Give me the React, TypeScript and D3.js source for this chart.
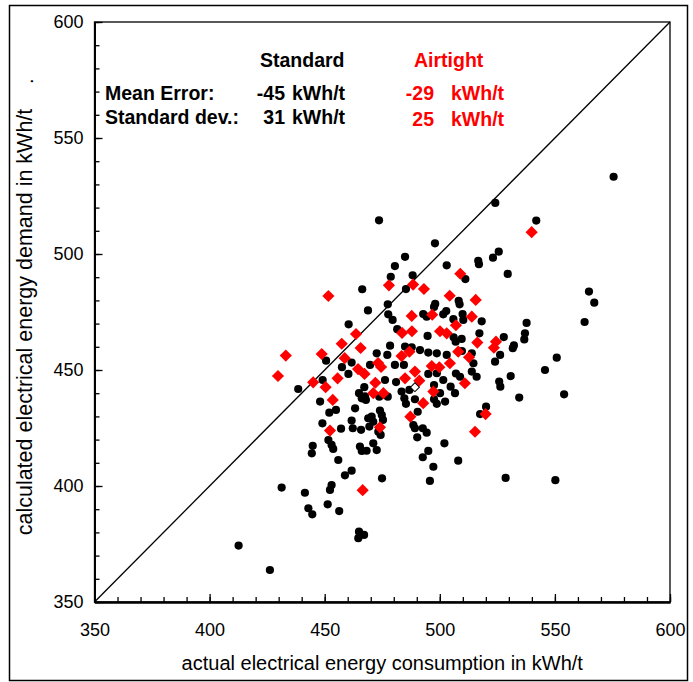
import { useRef, useEffect } from "react";
import * as d3 from "d3";

// [actual, calculated] in kWh/t
const standardPoints: [number, number][] = [
  [473.6, 514.5], [497.9, 504.6], [484.9, 498.8], [480.5, 494.8], [503.0, 495.1],
  [478.7, 490.2], [488.2, 490.8], [511.1, 489.2], [466.3, 484.8], [485.3, 484.9],
  [477.4, 478.3], [498.0, 478.5], [497.5, 477.2], [508.2, 479.8], [508.6, 478.3],
  [468.8, 475.7], [477.6, 474.0], [502.8, 475.4], [501.5, 474.0], [505.9, 471.9],
  [509.9, 474.1], [510.2, 471.6], [492.8, 474.1], [494.3, 473.0], [479.5, 471.6],
  [460.4, 469.7], [481.5, 467.6], [494.7, 464.7], [506.0, 464.1], [509.5, 463.4],
  [506.9, 462.2], [478.4, 460.5], [484.9, 460.1], [487.8, 459.8], [491.4, 458.6],
  [575.5, 533.3], [524.1, 522.0], [541.9, 514.4], [525.6, 501.0], [523.1, 498.4],
  [516.7, 497.1], [517.0, 495.6], [529.5, 491.4], [564.8, 483.8], [567.1, 479.0],
  [562.9, 470.7], [537.7, 470.3], [518.2, 471.0], [517.2, 465.8], [527.8, 464.2],
  [537.0, 465.8], [536.7, 463.2], [531.7, 459.4], [532.2, 460.6], [450.6, 454.0],
  [457.5, 451.2], [461.7, 453.2], [472.6, 457.2], [477.2, 456.5], [495.0, 457.5],
  [498.7, 457.2], [503.0, 456.5], [460.3, 448.3], [469.7, 452.2], [480.5, 452.2],
  [484.4, 452.2], [495.0, 448.3], [498.7, 448.6], [476.2, 445.7], [481.0, 444.8],
  [501.5, 445.7], [508.8, 447.1], [438.5, 441.8], [449.1, 445.7], [467.2, 442.6],
  [464.9, 440.0], [466.1, 437.8], [473.7, 438.5], [477.4, 438.5], [483.4, 440.7],
  [486.8, 441.4], [497.5, 443.5], [500.1, 440.0], [504.7, 442.8], [448.0, 436.4],
  [467.9, 437.1], [463.2, 433.5], [484.6, 437.8], [485.3, 435.4], [489.2, 437.4],
  [497.5, 437.4], [498.7, 435.4], [502.3, 436.4], [454.9, 432.8], [452.0, 431.6],
  [468.9, 429.2], [470.4, 429.9], [474.0, 432.5], [474.8, 430.6], [490.4, 432.0],
  [449.0, 427.0], [457.1, 424.7], [461.7, 428.2], [462.2, 424.9], [465.8, 424.2],
  [469.4, 425.6], [471.1, 427.7], [473.3, 423.4], [474.3, 422.0], [488.5, 426.3],
  [489.2, 424.9], [492.6, 424.9], [494.3, 423.0], [490.2, 421.0], [451.6, 419.8],
  [453.0, 417.7], [453.7, 416.0], [444.8, 417.3], [444.4, 414.1], [465.3, 417.0],
  [466.1, 415.1], [471.1, 418.4], [472.6, 415.5], [468.2, 415.2], [455.9, 411.2],
  [495.0, 415.1], [492.6, 412.4], [502.0, 418.4], [508.0, 410.9], [497.2, 408.3],
  [461.7, 406.6], [458.8, 404.6], [474.9, 403.3], [495.7, 402.2], [431.3, 399.3],
  [441.4, 397.1], [453.0, 400.4], [452.3, 398.3], [451.3, 392.1], [442.9, 390.4],
  [444.6, 387.8], [456.3, 389.2], [464.9, 380.3], [467.1, 378.9], [464.6, 377.5],
  [513.9, 457.2], [514.6, 452.9], [513.9, 449.3], [516.0, 447.1], [526.2, 456.5],
  [524.0, 453.6], [550.8, 455.3], [545.7, 450.0], [530.8, 447.4], [525.8, 445.0],
  [526.3, 442.8], [534.5, 438.1], [554.0, 439.5], [520.1, 434.2], [517.5, 431.0],
  [528.6, 403.5], [550.2, 402.5], [506.6, 440.0], [507.0, 448.5], [467.5, 438.6],
  [475.3, 428.5], [412.6, 374.3], [426.2, 363.8], [509.6, 458.2],
];

const airtightPoints: [number, number][] = [
  [508.9, 491.5], [477.9, 486.5], [488.4, 486.8], [493.1, 484.9], [451.6, 481.9],
  [504.3, 482.0], [515.6, 480.2], [487.8, 473.3], [496.7, 473.8], [513.9, 473.0],
  [507.0, 469.3], [483.6, 466.0], [487.9, 466.7], [500.1, 466.7], [503.0, 465.8],
  [463.6, 465.5], [457.4, 461.3], [465.6, 459.5], [539.9, 509.4], [516.3, 461.8],
  [524.4, 462.2], [523.5, 459.6], [433.1, 456.2], [448.7, 456.9], [458.7, 455.1],
  [483.4, 456.0], [486.8, 457.9], [508.0, 457.9], [512.7, 455.5], [464.5, 450.4],
  [467.3, 448.3], [473.2, 453.0], [474.5, 451.3], [472.0, 444.5], [471.1, 440.0],
  [475.5, 440.0], [496.5, 451.7], [499.8, 451.2], [504.4, 452.9], [484.9, 446.4],
  [489.2, 449.3], [491.1, 445.4], [510.9, 444.3], [445.0, 444.7], [450.4, 442.6],
  [455.6, 446.4], [497.2, 440.7], [453.5, 437.1], [492.8, 435.7], [487.2, 429.9],
  [452.3, 423.9], [474.0, 425.3], [515.3, 423.4], [466.5, 398.2], [429.7, 447.4],
  [519.9, 431.0],
];

const openPoints: [number, number][] = [[489.2, 442.6]];

const majorTicks = [350, 400, 450, 500, 550, 600];
const minorTicks = [
  350, 360, 370, 380, 390, 400, 410, 420, 430, 440, 450, 460, 470,
  480, 490, 500, 510, 520, 530, 540, 550, 560, 570, 580, 590, 600,
];

const seriesNames = ["Standard", "Airtight"];
const meanErrors = ["-45", "-29"];
const stdDevs = ["31", "25"];

export default function App() {
  const svgRef = useRef<SVGSVGElement>(null);

  useEffect(() => {
    if (!svgRef.current) return;
    const svg = d3.select(svgRef.current);
    svg.selectAll("*").remove();

    const font = "'Liberation Sans', Arial, sans-serif";
    const x = d3.scaleLinear().domain([350, 600]).range([94.5, 670]);
    const y = d3.scaleLinear().domain([350, 600]).range([602, 22]);

    // outer frame
    svg.append("rect")
      .attr("x", 9.5).attr("y", 5.5).attr("width", 678).attr("height", 675)
      .attr("fill", "none").attr("stroke", "#000").attr("stroke-width", 1.5);

    // plot box
    svg.append("rect")
      .attr("x", x(350)).attr("y", y(600))
      .attr("width", x(600) - x(350)).attr("height", y(350) - y(600))
      .attr("fill", "none").attr("stroke", "#000").attr("stroke-width", 1.3);

    // 1:1 line
    svg.append("line")
      .attr("x1", x(350)).attr("y1", y(350)).attr("x2", x(600)).attr("y2", y(600))
      .attr("stroke", "#000").attr("stroke-width", 1.3);

    // bottom axis
    const gx = svg.append("g").attr("transform", `translate(0,${y(350)})`);
    gx.append("g").call(
      d3.axisBottom(x).tickValues(minorTicks).tickSize(-5).tickSizeOuter(0).tickFormat(() => "")
    );
    gx.append("g").call(
      d3.axisBottom(x).tickValues(majorTicks).tickSize(-8).tickSizeOuter(0).tickPadding(21)
        .tickFormat((d) => String(d))
    );

    // left axis
    const gy = svg.append("g").attr("transform", `translate(${x(350)},0)`);
    gy.append("g").call(
      d3.axisLeft(y).tickValues(minorTicks).tickSize(-5).tickSizeOuter(0).tickFormat(() => "")
    );
    gy.append("g").call(
      d3.axisLeft(y).tickValues(majorTicks).tickSize(-8).tickSizeOuter(0).tickPadding(11)
        .tickFormat((d) => String(d))
    );

    svg.selectAll(".domain").attr("stroke", "#000").attr("stroke-width", 2);
    svg.selectAll(".tick line").attr("stroke", "#000").attr("stroke-width", 1.3);
    svg.selectAll(".tick text")
      .attr("fill", "#000").attr("font-family", font).attr("font-size", "18px");

    // axis titles
    svg.append("text")
      .attr("x", (x(350) + x(600)) / 2).attr("y", 670)
      .attr("text-anchor", "middle").attr("font-family", font).attr("font-size", "20px")
      .text("actual electrical energy consumption in kWh/t");

    svg.append("text")
      .attr("transform", `translate(32,322) rotate(-90)`)
      .attr("text-anchor", "middle").attr("font-family", font).attr("font-size", "21.5px")
      .text("calculated electrical energy demand in kWh/t");
    svg.append("text")
      .attr("transform", `translate(33,84) rotate(-90)`)
      .attr("font-family", font).attr("font-size", "20px")
      .text(".");

    // standard: black dots
    svg.append("g").selectAll("circle")
      .data(standardPoints)
      .join("circle")
      .attr("cx", (d) => x(d[0]))
      .attr("cy", (d) => y(d[1]))
      .attr("r", 4.1)
      .attr("fill", "#000");

    // airtight: red diamonds
    const diamond = d3.symbol(d3.symbolSquare, 74);
    svg.append("g").selectAll("path")
      .data(airtightPoints)
      .join("path")
      .attr("d", diamond)
      .attr("transform", (d) => `translate(${x(d[0])},${y(d[1])}) rotate(45)`)
      .attr("fill", "#ff0000");

    svg.append("g").selectAll("path")
      .data(openPoints)
      .join("path")
      .attr("d", d3.symbol(d3.symbolSquare, 40))
      .attr("transform", (d) => `translate(${x(d[0])},${y(d[1])}) rotate(45)`)
      .attr("fill", "#fff").attr("stroke", "#000").attr("stroke-width", 1);

    // statistics block
    const stats = svg.append("g")
      .attr("font-family", font).attr("font-size", "19.5px").attr("font-weight", "bold");
    const colors = ["#000", "#ff0000"];
    const headX = [260, 414];
    const numEnd = [285, 434];
    const unitX = [292, 451];

    seriesNames.forEach((name, i) => {
      stats.append("text").attr("x", headX[i]).attr("y", 67)
        .attr("fill", colors[i]).text(name);
      stats.append("text").attr("x", numEnd[i]).attr("y", 100)
        .attr("text-anchor", "end").attr("fill", colors[i]).text(meanErrors[i]);
      stats.append("text").attr("x", unitX[i]).attr("y", 100)
        .attr("fill", colors[i]).text("kWh/t");
      stats.append("text").attr("x", numEnd[i]).attr("y", 124 + i * 1.5)
        .attr("text-anchor", "end").attr("fill", colors[i]).text(stdDevs[i]);
      stats.append("text").attr("x", unitX[i]).attr("y", 124 + i * 1.5)
        .attr("fill", colors[i]).text("kWh/t");
    });
    stats.append("text").attr("x", 105).attr("y", 100).attr("fill", "#000").text("Mean Error:");
    stats.append("text").attr("x", 105).attr("y", 124).attr("fill", "#000").text("Standard dev.:");
  }, []);

  return (
    <svg
      ref={svgRef}
      width={693}
      height={682}
      style={{ position: "absolute", left: 0, top: 0, background: "#fff" }}
    />
  );
}
